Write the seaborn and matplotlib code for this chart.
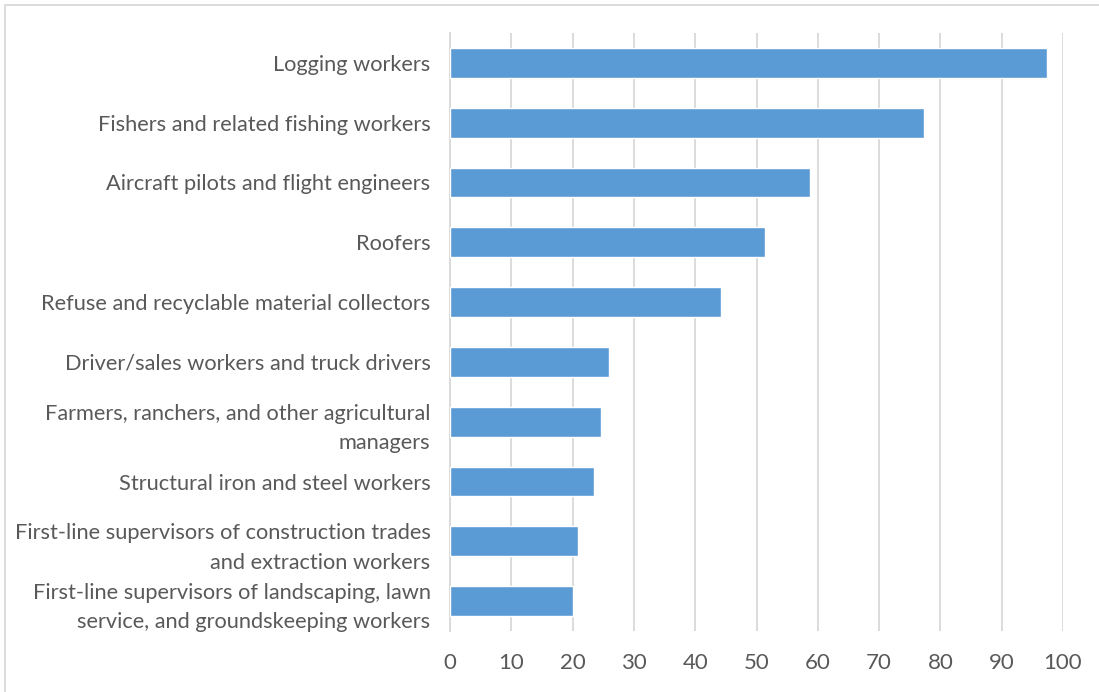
import matplotlib
matplotlib.use("Agg")
import matplotlib.pyplot as plt
import numpy as np
import pandas as pd
import seaborn as sns
from matplotlib.patches import Rectangle

# occupations, top to bottom
occupations = [
    "Logging workers",
    "Fishers and related fishing workers",
    "Aircraft pilots and flight engineers",
    "Roofers",
    "Refuse and recyclable material collectors",
    "Driver/sales workers and truck drivers",
    "Farmers, ranchers, and other agricultural\nmanagers",
    "Structural iron and steel workers",
    "First-line supervisors of construction trades\nand extraction workers",
    "First-line supervisors of landscaping, lawn\nservice, and groundskeeping workers",
]
rates = [97.4, 77.3, 58.7, 51.4, 44.2, 25.9, 24.6, 23.5, 20.9, 20.1]
x_ticks = [0, 10, 20, 30, 40, 50, 60, 70, 80, 90, 100]

df = pd.DataFrame({"occupation": occupations, "rate": rates})

sns.set_style("white")
plt.rcParams["font.family"] = ["Lato", "DejaVu Sans"]
text_grey = "#595959"
grid_grey = "#D9D9D9"

fig = plt.figure(figsize=(10.99, 6.92), dpi=100)
ax = fig.add_axes([450 / 1099, 1 - 631 / 692, (1063 - 450) / 1099, (631 - 33) / 692])

sns.barplot(data=df, x="rate", y="occupation", orient="h", color="#5B9BD5",
            width=0.5, saturation=1, ax=ax, zorder=3)

ax.set_xlim(0, 100)
ax.set_ylim(len(occupations) - 0.5, -0.5)
ax.set_xticks(x_ticks)
ax.set_xticklabels([str(t) for t in x_ticks])
ax.xaxis.grid(True, color=grid_grey, linewidth=1.3, zorder=0)
ax.set_axisbelow(True)
ax.set_xlabel("")
ax.set_ylabel("")

for side in ["top", "right", "bottom"]:
    ax.spines[side].set_visible(False)
ax.spines["left"].set_color(grid_grey)
ax.spines["left"].set_linewidth(1.3)

ax.tick_params(axis="x", length=0, labelsize=16, labelcolor=text_grey, pad=16)
ax.tick_params(axis="y", which="major", length=0, labelsize=15.7, labelcolor=text_grey, pad=14)
ax.set_yticks(np.arange(-0.5, len(occupations), 1), minor=True)
ax.tick_params(axis="y", which="minor", length=6, color=grid_grey, width=1.3)
for lbl in ax.get_yticklabels():
    lbl.set_horizontalalignment("right")
    lbl.set_multialignment("right")
    lbl.set_linespacing(1.58)

# outer chart border
fig.patches.append(Rectangle((5 / 1099, -0.01), 1.02, 1 - 5 / 692 + 0.01,
                             transform=fig.transFigure, fill=False,
                             edgecolor=grid_grey, linewidth=1.3))

fig.savefig("out.png", dpi=100)
